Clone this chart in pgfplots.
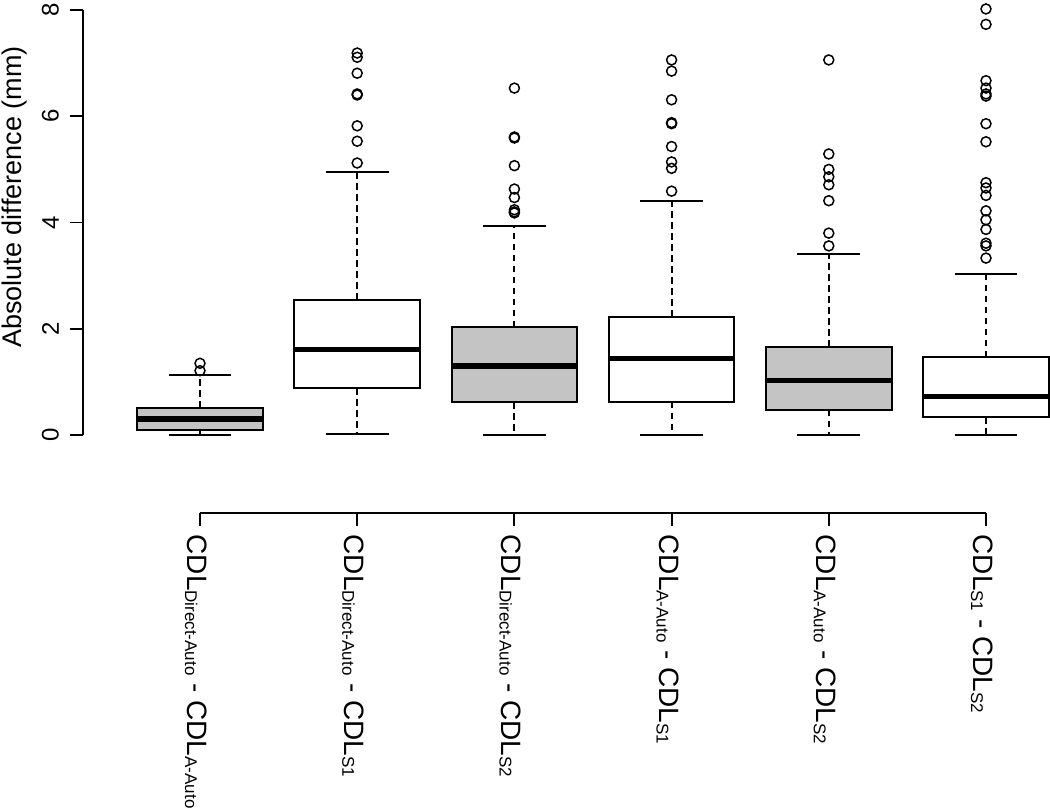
\documentclass[border=0pt]{standalone}
\usepackage{fontspec}
\setmainfont{Liberation Sans}
\usepackage{pgfplots}
\pgfplotsset{compat=1.18}
\usepgfplotslibrary{statistics}
\definecolor{boxgray}{RGB}{196,196,196}
\newcommand{\sub}[1]{\raisebox{-1.2pt}{\fontsize{8.5}{8.5}\selectfont #1}}
\pgfplotsset{
  boxplot/draw/lower whisker/.code={%
    \draw[line width=1pt, dash pattern=on 3.3pt off 2.2pt]
      (boxplot box cs:\pgfplotsboxplotvalue{lower quartile},0.5) --
      (boxplot box cs:\pgfplotsboxplotvalue{lower whisker},0.5);
    \draw[line width=1pt, solid]
      (boxplot whisker cs:\pgfplotsboxplotvalue{lower whisker},0) --
      (boxplot whisker cs:\pgfplotsboxplotvalue{lower whisker},1);
  },
  boxplot/draw/upper whisker/.code={%
    \draw[line width=1pt, dash pattern=on 3.3pt off 2.2pt]
      (boxplot box cs:\pgfplotsboxplotvalue{upper quartile},0.5) --
      (boxplot box cs:\pgfplotsboxplotvalue{upper whisker},0.5);
    \draw[line width=1pt, solid]
      (boxplot whisker cs:\pgfplotsboxplotvalue{upper whisker},0) --
      (boxplot whisker cs:\pgfplotsboxplotvalue{upper whisker},1);
  },
  rbox/.style={
    black, mark=o, mark size=2.5pt, mark options={solid, line width=0.75pt},
    boxplot/draw direction=y,
    boxplot/box extend=0.8, boxplot/whisker extend=0.4,
    boxplot/every box/.style={draw=black, line width=1pt, fill=#1},
    boxplot/every median/.style={line width=2.6pt},
  },
}
\begin{document}
\begin{tikzpicture}
\begin{axis}[
  scale only axis, width=393pt, height=212.5pt,
  xmin=1, xmax=6, ymin=0, ymax=8, clip=false,
  axis x line*=bottom, axis y line*=left,
  axis x line shift=39pt, axis y line shift=58.5pt,
  axis line style={-, line width=0.9pt, black},
  every tick/.style={black, line width=0.9pt},
  tick align=outside, major tick length=6.25pt,
  xtick={1,2,3,4,5,6},
  xticklabels={
    {CDL\sub{Direct-Auto} - CDL\sub{A-Auto}},
    {CDL\sub{Direct-Auto} - CDL\sub{S1}},
    {CDL\sub{Direct-Auto} - CDL\sub{S2}},
    {CDL\sub{A-Auto} - CDL\sub{S1}},
    {CDL\sub{A-Auto} - CDL\sub{S2}},
    {CDL\sub{S1} - CDL\sub{S2}}},
  xticklabel style={xshift=-2pt, yshift=-1pt, rotate=-90, anchor=west, font=\fontsize{14}{14}\selectfont},
  ytick={0,2,4,6,8},
  yticklabel style={xshift=-2.3pt, rotate=90, anchor=south, font=\fontsize{12}{12}\selectfont},
  /pgf/number format/assume math mode=true,
  ylabel={Absolute difference (mm)},
  every axis y label/.style={at={(axis description cs:-0.2366,0.56)}, anchor=center, rotate=90, font=\fontsize{13.5}{13.5}\selectfont},
]
\addplot[rbox=boxgray, boxplot prepared={draw position=1, lower whisker=0, lower quartile=0.09, median=0.30, upper quartile=0.51, upper whisker=1.13}]
  table[row sep=\\, y index=0] {data\\ 1.21\\ 1.35\\};
\addplot[rbox=white, boxplot prepared={draw position=2, lower whisker=0.01, lower quartile=0.88, median=1.61, upper quartile=2.54, upper whisker=4.95}]
  table[row sep=\\, y index=0] {data\\ 5.12\\ 5.53\\ 5.82\\ 6.40\\ 6.42\\ 6.81\\ 7.11\\ 7.19\\};
\addplot[rbox=boxgray, boxplot prepared={draw position=3, lower whisker=0, lower quartile=0.62, median=1.30, upper quartile=2.03, upper whisker=3.93}]
  table[row sep=\\, y index=0] {data\\ 4.18\\ 4.20\\ 4.24\\ 4.47\\ 4.63\\ 5.07\\ 5.59\\ 5.61\\ 6.53\\};
\addplot[rbox=white, boxplot prepared={draw position=4, lower whisker=0, lower quartile=0.63, median=1.44, upper quartile=2.22, upper whisker=4.41}]
  table[row sep=\\, y index=0] {data\\ 4.59\\ 5.02\\ 5.14\\ 5.43\\ 5.86\\ 5.88\\ 6.31\\ 6.85\\ 7.06\\};
\addplot[rbox=boxgray, boxplot prepared={draw position=5, lower whisker=0, lower quartile=0.48, median=1.02, upper quartile=1.66, upper whisker=3.41}]
  table[row sep=\\, y index=0] {data\\ 3.56\\ 3.80\\ 4.41\\ 4.71\\ 4.86\\ 5.00\\ 5.29\\ 7.06\\};
\addplot[rbox=white, boxplot prepared={draw position=6, lower whisker=0, lower quartile=0.34, median=0.72, upper quartile=1.46, upper whisker=3.04}]
  table[row sep=\\, y index=0] {data\\ 3.33\\ 3.56\\ 3.61\\ 3.87\\ 4.05\\ 4.22\\ 4.51\\ 4.65\\ 4.75\\ 5.52\\ 5.86\\ 6.38\\ 6.42\\ 6.53\\ 6.67\\ 7.73\\ 8.02\\};
\end{axis}
\pgfresetboundingbox
\useasboundingbox (-100pt,-187.5pt) rectangle (425pt,217.5pt);
\end{tikzpicture}
\end{document}
